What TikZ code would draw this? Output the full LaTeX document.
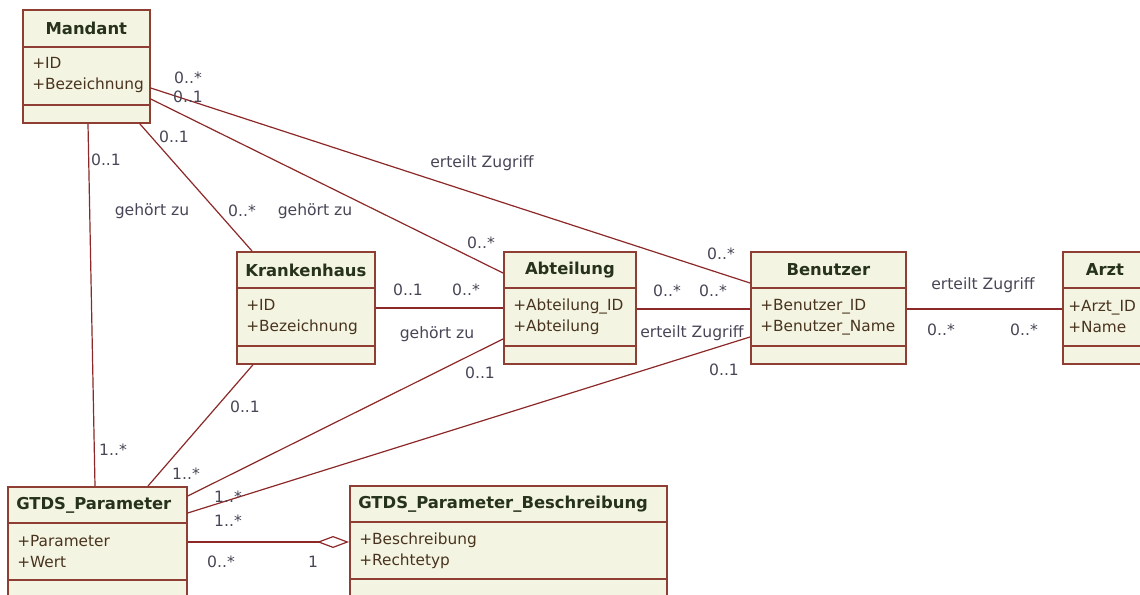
\documentclass[tikz,border=0pt]{standalone}
\usepackage{fontspec}
\setmainfont{DejaVu Sans}
\usepackage{tikz}
\usetikzlibrary{arrows.meta,calc}
\definecolor{umlborder}{RGB}{142,62,50}
\definecolor{umlfill}{RGB}{244,244,226}
\definecolor{umltitle}{RGB}{38,50,28}
\definecolor{umlattr}{RGB}{72,52,30}
\definecolor{umllabel}{RGB}{72,70,86}
\definecolor{umlline}{RGB}{140,40,40}
\tikzstyle{classbox} = [draw=umlborder, fill=umlfill, line width=1.3pt, anchor=north west, inner sep=0pt]
\tikzstyle{classtitle} = [font=\fontsize{12.3}{14}\selectfont\bfseries, text=umltitle, inner sep=0pt]
\tikzstyle{classattr} = [font=\fontsize{11.5}{15.75}\selectfont, text=umlattr, align=left, anchor=west, inner sep=0pt]
\tikzstyle{sep} = [draw=umlborder, line width=1.3pt]
\tikzstyle{assoc} = [draw=umlline, line width=0.9pt]
\tikzstyle{aggr} = [assoc, -{Diamond[open, length=24pt, width=9pt]}]
\tikzstyle{lbl} = [font=\fontsize{11.7}{13}\selectfont, text=umllabel, inner sep=0pt]

\begin{document}
\begin{tikzpicture}[x=0.75pt, y=-0.75pt]
  \useasboundingbox (0,0) rectangle (1140,595);
  \fill[white] (0,0) rectangle (1140,595);
  \clip (0,0) rectangle (1140,595);

  % classes
  \node[classbox, minimum width=95.25pt, minimum height=84.75pt] (mandant) at (22,9) {};
  \node[classtitle] (mandant-t) at ($(mandant.north)+(0,19)$) {Mandant};
  \node[classattr] (mandant-a) at ($(mandant.north west)+(10,66)$) {+ID\\+Bezeichnung};
  \draw[sep] ($(mandant.north west)+(0,38)$) -- ($(mandant.north east)+(0,38)$);
  \draw[sep] ($(mandant.north west)+(0,96)$) -- ($(mandant.north east)+(0,96)$);

  \node[classbox, minimum width=103.5pt, minimum height=84pt] (krankenhaus) at (236,251) {};
  \node[classtitle] (krankenhaus-t) at ($(krankenhaus.north)+(0,19)$) {Krankenhaus};
  \node[classattr] (krankenhaus-a) at ($(krankenhaus.north west)+(10,66)$) {+ID\\+Bezeichnung};
  \draw[sep] ($(krankenhaus.north west)+(0,37)$) -- ($(krankenhaus.north east)+(0,37)$);
  \draw[sep] ($(krankenhaus.north west)+(0,95)$) -- ($(krankenhaus.north east)+(0,95)$);

  \node[classbox, minimum width=99pt, minimum height=84pt] (abteilung) at (503,251) {};
  \node[classtitle] (abteilung-t) at ($(abteilung.north)+(0,19)$) {Abteilung};
  \node[classattr] (abteilung-a) at ($(abteilung.north west)+(10,66)$) {+Abteilung\_ID\\+Abteilung};
  \draw[sep] ($(abteilung.north west)+(0,37)$) -- ($(abteilung.north east)+(0,37)$);
  \draw[sep] ($(abteilung.north west)+(0,95)$) -- ($(abteilung.north east)+(0,95)$);

  \node[classbox, minimum width=116.25pt, minimum height=84pt] (benutzer) at (750,251) {};
  \node[classtitle] (benutzer-t) at ($(benutzer.north)+(0,19)$) {Benutzer};
  \node[classattr] (benutzer-a) at ($(benutzer.north west)+(10,66)$) {+Benutzer\_ID\\+Benutzer\_Name};
  \draw[sep] ($(benutzer.north west)+(0,37)$) -- ($(benutzer.north east)+(0,37)$);
  \draw[sep] ($(benutzer.north west)+(0,95)$) -- ($(benutzer.north east)+(0,95)$);

  \node[classbox, minimum width=105pt, minimum height=84pt] (arzt) at (1062,251) {};
  \node[classtitle] (arzt-t) at (1105,270) {Arzt};
  \node[classattr] (arzt-a) at ($(arzt.north west)+(6,66)$) {+Arzt\_ID\\+Name};
  \draw[sep] ($(arzt.north west)+(0,37)$) -- ($(arzt.north east)+(0,37)$);
  \draw[sep] ($(arzt.north west)+(0,95)$) -- ($(arzt.north east)+(0,95)$);

  \node[classbox, minimum width=134.25pt, minimum height=105pt] (gtds) at (7,486) {};
  \node[classtitle, anchor=west] (gtds-t) at ($(gtds.north west)+(9,19)$) {GTDS\_Parameter};
  \node[classattr] (gtds-a) at ($(gtds.north west)+(10,66)$) {+Parameter\\+Wert};
  \draw[sep] ($(gtds.north west)+(0,37)$) -- ($(gtds.north east)+(0,37)$);
  \draw[sep] ($(gtds.north west)+(0,94)$) -- ($(gtds.north east)+(0,94)$);

  \node[classbox, minimum width=237.75pt, minimum height=105pt] (beschr) at (349,485) {};
  \node[classtitle, anchor=west] (beschr-t) at ($(beschr.north west)+(9,19)$) {GTDS\_Parameter\_Beschreibung};
  \node[classattr] (beschr-a) at ($(beschr.north west)+(10,66)$) {+Beschreibung\\+Rechtetyp};
  \draw[sep] ($(beschr.north west)+(0,37)$) -- ($(beschr.north east)+(0,37)$);
  \draw[sep] ($(beschr.north west)+(0,94)$) -- ($(beschr.north east)+(0,94)$);

  % associations
  \draw[assoc] ($(mandant.north east)+(0,79)$) -- ($(benutzer.north west)+(0,32)$);
  \draw[assoc] ($(mandant.north east)+(0,90)$) -- ($(abteilung.north west)+(0,22)$);
  \draw[assoc] ($(mandant.south east)+(-11,0)$) -- ($(krankenhaus.north west)+(16,0)$);
  \draw[assoc] ($(mandant.south west)+(66,0)$) -- ($(gtds.north west)+(88,0)$);
  \draw[assoc] ($(krankenhaus.north east)+(0,57)$) -- ($(abteilung.north west)+(0,57)$);
  \draw[assoc] ($(krankenhaus.south west)+(17,0)$) -- ($(gtds.north west)+(141,0)$);
  \draw[assoc] ($(gtds.north east)+(0,10)$) -- ($(abteilung.north west)+(0,88)$);
  \draw[assoc] ($(gtds.north east)+(0,27)$) -- ($(benutzer.north west)+(0,86)$);
  \draw[assoc] ($(abteilung.north east)+(0,58)$) -- ($(benutzer.north west)+(0,58)$);
  \draw[assoc] ($(benutzer.north east)+(0,58)$) -- ($(arzt.north west)+(0,58)$);
  \draw[aggr] ($(gtds.north east)+(0,56)$) -- ($(beschr.north west)+(0,57)$);

  % labels
  \node[lbl] (mb1) at (188,78) {0..*};
  \node[lbl] (mb2) at (721,254) {0..*};
  \node[lbl] (mb3) at (482,163) {erteilt Zugriff};
  \node[lbl] (ma1) at (188,97) {0..1};
  \node[lbl] (ma2) at (481,243) {0..*};
  \node[lbl] (ma3) at (315,211) {gehört zu};
  \node[lbl] (mk1) at (174,137) {0..1};
  \node[lbl] (mk2) at (242,211) {0..*};
  \node[lbl] (mk3) at (152,211) {gehört zu};
  \node[lbl] (mg1) at (106,160) {0..1};
  \node[lbl] (mg2) at (113,450) {1..*};
  \node[lbl] (ka1) at (408,290) {0..1};
  \node[lbl] (ka2) at (466,290) {0..*};
  \node[lbl] (ka3) at (437,334) {gehört zu};
  \node[lbl] (kg1) at (245,407) {0..1};
  \node[lbl] (kg2) at (186,474) {1..*};
  \node[lbl] (ag1) at (480,373) {0..1};
  \node[lbl] (ag2) at (228,497) {1..*};
  \node[lbl] (bg1) at (724,370) {0..1};
  \node[lbl] (bg2) at (692,333) {erteilt Zugriff};
  \node[lbl] (bg3) at (228,521) {1..*};
  \node[lbl] (ab1) at (667,291) {0..*};
  \node[lbl] (ab2) at (713,291) {0..*};
  \node[lbl] (bz1) at (983,285) {erteilt Zugriff};
  \node[lbl] (bz2) at (941,330) {0..*};
  \node[lbl] (bz3) at (1024,330) {0..*};
  \node[lbl] (gb1) at (221,562) {0..*};
  \node[lbl] (gb2) at (313,562) {1};
\end{tikzpicture}
\end{document}
